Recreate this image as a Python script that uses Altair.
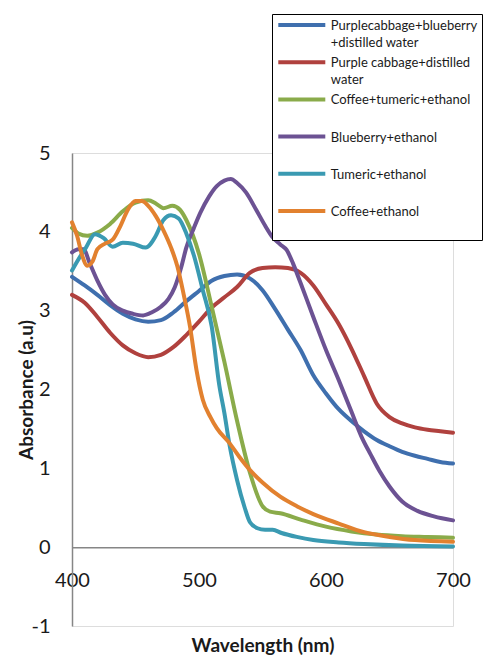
import altair as alt
import pandas as pd

# ---------------- data ----------------
series_names = [
    "Purplecabbage+blueberry+distilled water",
    "Purple cabbage+distilled water",
    "Coffee+tumeric+ethanol",
    "Blueberry+ethanol",
    "Tumeric+ethanol",
    "Coffee+ethanol",
]
legend_lines = [
    ["Purplecabbage+blueberry", "+distilled water"],
    ["Purple cabbage+distilled", "water"],
    ["Coffee+tumeric+ethanol", " "],
    ["Blueberry+ethanol", " "],
    ["Tumeric+ethanol", " "],
    ["Coffee+ethanol", " "],
]
series_colors = ["#3F6FAE", "#B0413E", "#8AAB4A", "#6C5293", "#3A9AB2", "#E2812F"]

x_ticks = [400, 500, 600, 700]
y_ticks = [-1, 0, 1, 2, 3, 4, 5]

pbw_wl = [400, 410, 420, 430, 440, 450, 460, 470, 480, 490, 500, 510, 520, 530, 540,
          550, 560, 570, 580, 590, 600, 610, 620, 630, 640, 650, 660, 670, 680, 690, 700]
pbw_abs = [3.43, 3.32, 3.2, 3.07, 2.96, 2.89, 2.86, 2.88, 2.98, 3.12, 3.25, 3.38, 3.44, 3.46, 3.41,
           3.26, 3.02, 2.76, 2.5, 2.18, 1.95, 1.75, 1.6, 1.47, 1.36, 1.28, 1.21, 1.16, 1.12, 1.08, 1.06]

pcw_wl = [400, 410, 420, 430, 440, 450, 460, 470, 480, 490, 500, 510, 520, 530, 540,
          550, 560, 570, 580, 590, 600, 610, 620, 630, 640, 650, 660, 670, 680, 690, 700]
pcw_abs = [3.2, 3.1, 2.92, 2.72, 2.56, 2.46, 2.41, 2.44, 2.54, 2.69, 2.86, 3.04, 3.17, 3.3, 3.48,
           3.54, 3.55, 3.54, 3.48, 3.32, 3.08, 2.83, 2.52, 2.17, 1.82, 1.65, 1.57, 1.52, 1.49, 1.47, 1.45]

cte_wl = [400, 405, 412, 420, 430, 440, 450, 460, 466, 472, 479, 485, 490, 500, 510, 520, 530,
          540, 550, 556, 564, 580, 600, 620, 640, 660, 680, 700]
cte_abs = [4.05, 3.98, 3.95, 3.99, 4.1, 4.26, 4.37, 4.4, 4.36, 4.3, 4.33, 4.28, 4.15, 3.72, 3.05, 2.35, 1.6,
           0.95, 0.52, 0.45, 0.43, 0.35, 0.26, 0.2, 0.16, 0.14, 0.13, 0.12]

be_wl = [400, 405, 409, 414, 420, 426, 432, 440, 448, 456, 463, 470, 476, 481, 486, 490, 496, 501,
         508, 514, 520, 525, 530, 537, 545, 552, 558, 564, 569, 574, 580, 590, 600, 610, 620, 628,
         635, 642, 650, 660, 672, 685, 700]
be_abs = [3.74, 3.78, 3.78, 3.6, 3.38, 3.2, 3.08, 3.0, 2.96, 2.94, 2.98, 3.05, 3.15, 3.3, 3.55, 3.8, 4.05, 4.24,
          4.45, 4.58, 4.65, 4.67, 4.62, 4.5, 4.28, 4.08, 3.93, 3.84, 3.77, 3.6, 3.35, 2.92, 2.5, 2.12, 1.72, 1.4,
          1.18, 0.97, 0.77, 0.58, 0.46, 0.39, 0.34]

te_wl = [400, 405, 411, 418, 425, 432, 440, 448, 458, 466, 472, 478, 484, 490, 496, 503, 510, 516,
         520, 524, 530, 536, 540, 546, 552, 558, 565, 577, 590, 610, 630, 660, 700]
te_abs = [3.51, 3.65, 3.8, 3.97, 3.92, 3.81, 3.86, 3.85, 3.8, 3.95, 4.15, 4.21, 4.17, 3.98, 3.7, 3.26, 2.8, 2.05,
          1.7, 1.3, 0.85, 0.5, 0.32, 0.24, 0.22, 0.22, 0.18, 0.13, 0.09, 0.06, 0.04, 0.02, 0.01]

ce_wl = [400, 404, 408, 412, 416, 420, 426, 432, 438, 444, 450, 455, 460, 466, 472, 478, 483, 488,
         493, 498, 503, 509, 514, 524, 532, 540, 550, 564, 577, 590, 610, 630, 650, 670, 700]
ce_abs = [4.12, 3.95, 3.7, 3.57, 3.62, 3.78, 3.85, 3.9, 4.07, 4.28, 4.39, 4.39, 4.33, 4.2, 4.02, 3.8, 3.56, 3.2,
          2.79, 2.25, 1.87, 1.65, 1.51, 1.32, 1.14, 0.98, 0.82, 0.64, 0.52, 0.42, 0.3, 0.19, 0.13, 0.09, 0.07]

series_wl = [pbw_wl, pcw_wl, cte_wl, be_wl, te_wl, ce_wl]
series_abs = [pbw_abs, pcw_abs, cte_abs, be_abs, te_abs, ce_abs]

rows = []
for i, (name, wls, vals) in enumerate(zip(series_names, series_wl, series_abs)):
    for w, v in zip(wls, vals):
        rows.append({"series": name, "wavelength": w, "absorbance": v, "k": i})
df = pd.DataFrame(rows)

# legend label expression (multi-line labels)
parts = []
for name, lines in zip(series_names, legend_lines):
    arr = "[" + ", ".join("'" + s + "'" for s in lines) + "]"
    parts.append(f"datum.label == '{name}' ? {arr} : ")
label_expr = "".join(parts) + "datum.label"

FONT = "Lato"
W, H = 381, 473
LDY = 5  # shared guide-label dy (used for legend line alignment)

chart = alt.Chart(df).mark_line(
    interpolate="monotone", strokeWidth=4, strokeCap="round", strokeJoin="round"
).encode(
    x=alt.X(
        "wavelength:Q",
        scale=alt.Scale(domain=[400, 700], nice=False, zero=False),
        axis=alt.Axis(
            title="Wavelength (nm)", values=x_ticks, offset=-H / 6, grid=False, ticks=False,
            domainColor="#868686", domainWidth=1.5, labelFont=FONT, labelFontSize=20,
            labelColor="#1a1a1a", labelPadding=23 - LDY, labelFlush=False, labelOverlap=False,
            titleFont=FONT, titleFontSize=19, titleFontWeight="bold", titleColor="#1a1a1a",
            titleY=104, titleBaseline="alphabetic",
        ),
    ),
    y=alt.Y(
        "absorbance:Q",
        scale=alt.Scale(domain=[-1, 5], nice=False, zero=False),
        axis=alt.Axis(
            title="Absorbance (a.u)", values=y_ticks, grid=False, ticks=False,
            domainColor="#868686", domainWidth=1.5, labelFont=FONT, labelFontSize=20,
            labelColor="#1a1a1a", labelPadding=22, labelFlush=False, labelOverlap=False,
            labelOffset=-LDY, labelExpr="'' + datum.value",
            titleFont=FONT, titleFontSize=19, titleFontWeight="bold", titleColor="#1a1a1a",
            titleX=-40, titleBaseline="alphabetic",
        ),
    ),
    color=alt.Color(
        "series:N",
        sort=series_names,
        scale=alt.Scale(domain=series_names, range=series_colors),
        legend=alt.Legend(
            title=None, orient="none", legendX=200, legendY=-139,
            fillColor="white", strokeColor="black", padding=4,
            symbolType="M-4.7,0L4.7,0", symbolSize=100, symbolStrokeWidth=4,
            symbolOffset=18.8,
            labelFont=FONT, labelFontSize=13, labelColor="#1a1a1a", labelLimit=0,
            labelBaseline="alphabetic", rowPadding=4.2, labelOffset=22,
            gridAlign="all",
            labelExpr=label_expr,
        ),
    ),
    order=alt.Order("k:Q"),
).properties(
    width=W, height=H,
    padding={"left": 72, "top": 153, "right": 31, "bottom": 29},
    autosize=alt.AutoSizeParams(type="none"),
    background="white",
).configure_view(
    stroke="black", strokeWidth=1.3
).configure(
    style={"guide-label": {"dy": LDY, "lineHeight": 17}}
)

chart.save("out.html", embed_options={"renderer": "svg", "actions": False})
